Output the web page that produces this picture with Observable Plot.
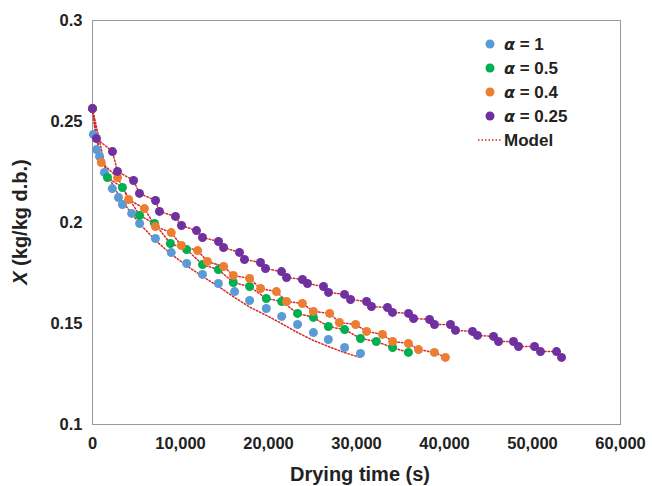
<!DOCTYPE html>
<html><head><meta charset="utf-8">
<script src="https://cdn.jsdelivr.net/npm/d3@7"></script>
<script src="https://cdn.jsdelivr.net/npm/@observablehq/plot@0.6"></script>
<style>
body{margin:0;background:#fff;}
#chart{position:relative;width:652px;height:486px;}
</style>
</head><body><div id="chart"></div>
<script>
// ---- data ----
const seriesNames = ["α = 1", "α = 0.5", "α = 0.4", "α = 0.25"];
const seriesColors = ["#5B9BD5", "#00B050", "#ED7D31", "#7030A0"];
const modelName = "Model";
const xTicks = [0, 10000, 20000, 30000, 40000, 50000, 60000];
const yTicks = [0.1, 0.15, 0.2, 0.25, 0.3];

// α = 1 (measured)
const timeA1 = [0, 100, 450, 800, 1350, 2250, 2950, 3400, 4450, 5350, 7150, 8950, 10700, 12500, 14300, 16150, 17850, 19750, 21500, 23300, 25100, 26800, 28650, 30450];
const moistA1 = [0.2564, 0.2436, 0.2361, 0.2327, 0.2248, 0.2168, 0.2124, 0.2089, 0.2045, 0.1995, 0.1921, 0.1851, 0.1797, 0.1743, 0.1698, 0.1658, 0.1614, 0.1574, 0.1535, 0.1495, 0.1455, 0.1421, 0.1381, 0.1352];
// α = 0.5 (measured)
const timeA05 = [0, 1700, 3400, 5350, 7050, 8850, 10700, 12500, 14300, 16000, 17850, 19750, 21500, 23300, 25100, 26800, 28650, 30450, 32250, 34100, 35900];
const moistA05 = [0.2564, 0.2223, 0.2173, 0.2035, 0.1995, 0.1896, 0.1866, 0.1792, 0.1767, 0.1703, 0.1683, 0.1624, 0.1609, 0.1550, 0.1530, 0.1485, 0.1470, 0.1426, 0.1411, 0.1381, 0.1357];
// α = 0.4 (measured)
const timeA04 = [0, 1000, 2850, 4100, 5900, 7150, 8950, 10100, 11950, 13050, 14900, 16000, 17850, 19100, 20900, 22050, 23850, 25100, 26950, 28050, 29900, 31150, 32950, 34100, 35900, 37050, 38850, 40100];
const moistA04 = [0.2564, 0.2297, 0.2223, 0.2114, 0.2069, 0.1980, 0.1950, 0.1886, 0.1861, 0.1807, 0.1782, 0.1738, 0.1723, 0.1673, 0.1658, 0.1609, 0.1599, 0.1560, 0.1550, 0.1505, 0.1495, 0.1461, 0.1446, 0.1411, 0.1401, 0.1371, 0.1357, 0.1332];
// α = 0.25 (measured)
const timeA025 = [0, 450, 2270, 2840, 4660, 5340, 7160, 7610, 9430, 10110, 11820, 12500, 14320, 14890, 16700, 17270, 19090, 19660, 21480, 22050, 23860, 24430, 26250, 26820, 28640, 29320, 31140, 31700, 33520, 34090, 35910, 36480, 38300, 38860, 40680, 41250, 43180, 43750, 45570, 46140, 47840, 48410, 50230, 50910, 52730, 53300];
const moistA025 = [0.2564, 0.2416, 0.2351, 0.2253, 0.2208, 0.2144, 0.2109, 0.2055, 0.2030, 0.1985, 0.1960, 0.1926, 0.1906, 0.1876, 0.1852, 0.1817, 0.1802, 0.1772, 0.1757, 0.1728, 0.1718, 0.1698, 0.1683, 0.1654, 0.1644, 0.1619, 0.1609, 0.1584, 0.1579, 0.1555, 0.1550, 0.1525, 0.1520, 0.1495, 0.1495, 0.1466, 0.1461, 0.1441, 0.1436, 0.1411, 0.1411, 0.1386, 0.1386, 0.1361, 0.1361, 0.1332];

// Model curve for α = 1
const modelTimeA1 = [0, 340, 910, 2050, 3180, 4430, 5450, 7160, 8980, 10680, 12500, 14320, 16140, 17950, 19770, 21480, 23300, 25110, 26820, 28640, 30450];
const modelMoistA1 = [0.2564, 0.2431, 0.2332, 0.2208, 0.2119, 0.2045, 0.1990, 0.1911, 0.1842, 0.1787, 0.1733, 0.1683, 0.1629, 0.1579, 0.1540, 0.1500, 0.1455, 0.1416, 0.1386, 0.1356, 0.1332];

// ---- build tables ----
const measTimes = [timeA1, timeA05, timeA04, timeA025];
const measMoist = [moistA1, moistA05, moistA04, moistA025];
const rows = [];
measTimes.forEach((ts, i) => ts.forEach((t, j) => rows.push({series: seriesNames[i], t, X: measMoist[i][j]})));
const modelRows = [];
modelTimeA1.forEach((t, j) => modelRows.push({series: "m1", t, X: modelMoistA1[j]}));
[1, 2, 3].forEach(i => measTimes[i].forEach((t, j) => modelRows.push({series: "m" + i + "x", t, X: measMoist[i][j]})));

const modelColor = "#D42A2A";
const modelDash = "1.5,2";
const chart = Plot.plot({
  width: 652, height: 486,
  marginLeft: 92, marginRight: 32, marginTop: 20, marginBottom: 62,
  style: {fontFamily: "'Liberation Sans', Arial, sans-serif", fontSize: "16.5px", fontWeight: "bold", background: "white", color: "#222", overflow: "visible"},
  x: {domain: [0, 60000], ticks: xTicks, tickFormat: d3.format(","), tickSize: 0, tickPadding: 13, label: null},
  y: {domain: [0.1, 0.3], ticks: yTicks, tickFormat: d => String(d), tickSize: 0, tickPadding: 10, label: null},
  color: {domain: seriesNames, range: seriesColors},
  marks: [
    Plot.frame({stroke: "#9a9a9a"}),
    Plot.line(modelRows, {x: "t", y: "X", z: "series", stroke: modelColor, strokeWidth: 1.5, strokeDasharray: modelDash}),
    Plot.dot(rows, {x: "t", y: "X", fill: "series", r: 4.5})
  ]
});
document.getElementById("chart").appendChild(chart);

// ---- axis titles and legend ----
const svg = d3.select(chart);
svg.append("text").attr("x", 360).attr("y", 481).attr("text-anchor", "middle")
  .style("font-size", "20px").style("font-weight", "bold").attr("fill", "#222").text("Drying time (s)");
const yt = svg.append("text").attr("transform", "translate(27,222) rotate(-90)").attr("text-anchor", "middle")
  .style("font-size", "20px").style("font-weight", "bold").attr("fill", "#222");
yt.append("tspan").style("font-style", "italic").text("X");
yt.append("tspan").text(" (kg/kg d.b.)");

const leg = svg.append("g").attr("text-anchor", "start");
const legY = [44, 68, 92, 116];
seriesNames.forEach((name, i) => {
  leg.append("circle").attr("cx", 490).attr("cy", legY[i]).attr("r", 4.5).attr("fill", seriesColors[i]);
  const tx = leg.append("text").attr("x", 504).attr("y", legY[i]).attr("dy", "0.35em").attr("text-anchor", "start")
    .style("font-size", "17px").style("font-weight", "bold").attr("fill", "#222");
  const parts = name.split(" = ");
  tx.append("tspan").style("font-style", "italic").style("font-family", "'DejaVu Sans', sans-serif").style("font-size", "16px").text("α");
  tx.append("tspan").text(" = " + parts[1]);
});
leg.append("line").attr("x1", 478).attr("x2", 501).attr("y1", 140).attr("y2", 140)
  .attr("stroke", modelColor).attr("stroke-width", 1.5).attr("stroke-dasharray", modelDash);
leg.append("text").attr("x", 504).attr("y", 140).attr("dy", "0.35em").attr("text-anchor", "start")
  .style("font-size", "17px").style("font-weight", "bold").attr("fill", "#222").text(modelName);
</script>
</body></html>
